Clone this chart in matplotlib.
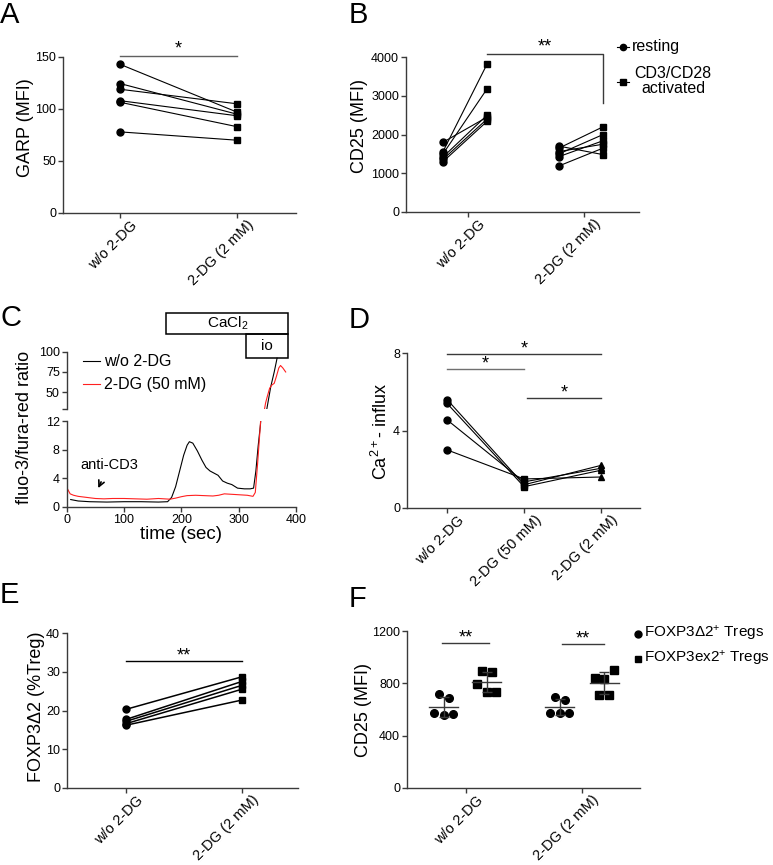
import numpy as np
import matplotlib
matplotlib.use('Agg')
import matplotlib.pyplot as plt
from matplotlib.lines import Line2D
from matplotlib.patches import Rectangle
from matplotlib.transforms import ScaledTranslation

plt.rcParams['font.family'] = ['Liberation Sans', 'DejaVu Sans']
plt.rcParams['mathtext.fontset'] = 'custom'
plt.rcParams['mathtext.rm'] = 'Liberation Sans'
plt.rcParams['mathtext.it'] = 'Liberation Sans:italic'

# ---- data ----
garp_wo = [143, 124.5, 119, 108, 106.5, 78]
garp_2dg = [97, 95, 105, 93.5, 83, 70]

cd25_wo_rest = [1800, 1560, 1500, 1420, 1360, 1300]
cd25_wo_act = [2450, 3820, 3180, 2500, 2400, 2340]
cd25_dg_rest = [1700, 1650, 1560, 1500, 1430, 1190]
cd25_dg_act = [1480, 2200, 1750, 2000, 1840, 1650]

t_black = [7, 20, 40, 70, 100, 130, 160, 176, 183, 190, 197, 204, 210, 214,
           220, 228, 236, 243, 250, 257, 264, 272, 280, 288, 298, 310, 320,
           326, 330, 334, 338, 342, 349, 356, 362, 367]
v_black = [1.0, 0.8, 0.7, 0.65, 0.7, 0.7, 0.65, 0.7, 1.3, 2.8, 5.0, 7.2, 8.6,
           9.1, 8.9, 7.8, 6.5, 5.5, 5.0, 4.7, 4.4, 3.6, 3.3, 3.1, 2.6, 2.5,
           2.5, 2.6, 5.0, 8.5, 11.5, 16, 29, 57, 75, 92]
t_red = [2, 6, 12, 20, 35, 50, 65, 80, 100, 120, 140, 160, 180, 190, 200, 210,
         225, 240, 255, 265, 275, 285, 295, 305, 315, 325, 329, 333, 337, 340,
         344, 347, 350, 354, 358, 362, 366, 370, 373, 377, 382]
v_red = [2.4, 1.8, 1.6, 1.45, 1.3, 1.15, 1.1, 1.15, 1.15, 1.1, 1.05, 1.15,
         1.05, 1.2, 1.4, 1.55, 1.6, 1.55, 1.5, 1.6, 1.8, 1.75, 1.7, 1.65, 1.6,
         1.45, 2.0, 6.0, 10.5, 14, 25, 37, 45, 55, 59, 61, 70, 80, 83, 80, 75]

ca_wo = [5.6, 5.4, 4.55, 3.0]
ca_50 = [1.2, 1.1, 1.35, 1.5]
ca_2 = [2.2, 1.95, 2.05, 1.6]

foxp3_wo = [20.3, 17.7, 17.2, 16.6, 16.2]
foxp3_dg = [28.7, 27.5, 26.5, 25.5, 22.7]

f_wo_d2 = [715, 689, 572, 559, 567]
f_wo_ex2 = [897, 887, 798, 735, 735]
f_dg_d2 = [692, 674, 577, 577, 577]
f_dg_ex2 = [900, 844, 831, 709, 714]

labels2 = ['w/o 2-DG', '2-DG (2 mM)']
labels3 = ['w/o 2-DG', '2-DG (50 mM)', '2-DG (2 mM)']

# ---- layout helpers ----
W, H = 773, 865
AX_C = '#3a3a3a'
fig = plt.figure(figsize=(W/100, H/100), dpi=100)


def box(l, t, r, b):
    return fig.add_axes([l/W, 1-b/H, (r-l)/W, (b-t)/H])


def style(ax, xt=None):
    for s in ['top', 'right']:
        ax.spines[s].set_visible(False)
    for s in ['left', 'bottom']:
        ax.spines[s].set_color(AX_C)
        ax.spines[s].set_linewidth(1.0)
    ax.tick_params(direction='out', length=3.5, width=1, color=AX_C,
                   labelsize=9, pad=1.5)
    if xt is not None:
        ax.set_xticks(range(len(xt)))
        ax.set_xticklabels(xt, rotation=45, ha='right', va='top',
                           rotation_mode='anchor', fontsize=10.5)
        off = ScaledTranslation(10/100, 2/100, fig.dpi_scale_trans)
        for lab in ax.get_xticklabels():
            lab.set_transform(lab.get_transform() + off)


def sig(ax, x0, x1, y, txt, color=AX_C, dy=0):
    ax.plot([x0, x1], [y, y], color=color, lw=1, clip_on=False)
    ax.text((x0+x1)/2, y+dy, txt, ha='center', va='bottom', fontsize=13)


def ylab(x, y, txt, fs=13):
    fig.text(x/W, 1-y/H, txt, rotation=90, ha='center', va='center',
             fontsize=fs)


def letter(x, y, txt):
    fig.text(x/W, 1-y/H, txt, ha='left', va='top', fontsize=21)


mk = dict(color='black', clip_on=False, zorder=3, linestyle='none')
ln = dict(color='black', lw=0.8, zorder=2)

# ---- A ----
ax = box(63, 57, 296, 213)
style(ax, labels2)
for a, b in zip(garp_wo, garp_2dg):
    ax.plot([0, 1], [a, b], **ln)
ax.plot([0]*len(garp_wo), garp_wo, marker='o', ms=5, **mk)
ax.plot([1]*len(garp_2dg), garp_2dg, marker='s', ms=5, **mk)
ax.set_xlim(-0.487, 1.504)
ax.set_ylim(0, 150)
ax.set_yticks([0, 50, 100, 150])
sig(ax, 0, 1, 151, '*', color='#606060', dy=-1.5)
ylab(26, 128, 'GARP (MFI)')
letter(0, 1, 'A')

# ---- B ----
ax = box(406, 57, 639, 212)
style(ax, labels2)
o_r, o_a = -0.215, 0.165
for a, b in zip(cd25_wo_rest, cd25_wo_act):
    ax.plot([o_r, o_a], [a, b], **ln)
for a, b in zip(cd25_dg_rest, cd25_dg_act):
    ax.plot([1+o_r, 1+o_a], [a, b], **ln)
ax.plot([o_r]*6, cd25_wo_rest, marker='o', ms=5, **mk)
ax.plot([o_a]*6, cd25_wo_act, marker='s', ms=5, **mk)
ax.plot([1+o_r]*6, cd25_dg_rest, marker='o', ms=5, **mk)
ax.plot([1+o_a]*6, cd25_dg_act, marker='s', ms=5, **mk)
ax.set_xlim(-0.534, 1.474)
ax.set_ylim(0, 4000)
ax.set_yticks([0, 1000, 2000, 3000, 4000])
ax.plot([o_a, 1+o_a, 1+o_a], [4080, 4080, 2810], color=AX_C, lw=1,
        clip_on=False)
ax.text(0.66, 4030, '**', ha='center', va='bottom', fontsize=13)
ylab(359, 126, 'CD25 (MFI)')
letter(349, 1, 'B')
for yy, mark in [(47, 'o'), (82, 's')]:
    fig.add_artist(Line2D([617/W, 623/W, 629/W], [1-yy/H]*3, color='black',
                          lw=0.8, marker=mark, ms=4.5, markevery=[1]))
fig.text(632/W, 1-47/H, 'resting', ha='left', va='center', fontsize=11.5)
fig.text(673/W, 1-81/H, 'CD3/CD28\nactivated', ha='center', va='center',
         fontsize=11.5, multialignment='center', linespacing=0.95)

# ---- C ----
axl = box(66.7, 421, 296, 506.7)
style(axl)
axl.plot(t_black, v_black, color='black', lw=0.8)
axl.plot(t_red, v_red, color='#ff2020', lw=0.8)
axl.set_xlim(0, 400)
axl.set_ylim(0, 12)
axl.set_yticks([0, 4, 8, 12])
axl.set_xticks([0, 100, 200, 300, 400])
axl.set_xlabel('time (sec)', fontsize=13.5, labelpad=0)
axl.annotate('anti-CD3', xy=(55, 2.6), xytext=(74, 5.9), ha='center',
             va='center', fontsize=10.5,
             arrowprops=dict(arrowstyle='->', color='black', lw=1.2,
                             shrinkA=6, shrinkB=0))

axu = box(66.7, 351.7, 296, 408.5)
style(axu)
axu.spines['bottom'].set_visible(False)
axu.plot(t_black, v_black, color='black', lw=0.8)
axu.plot(t_red, v_red, color='#ff2020', lw=0.8)
axu.set_xlim(0, 400)
axu.set_ylim(30, 100)
axu.set_xticks([])
axu.set_yticks([30, 50, 75, 100])
axu.set_yticklabels(['', '50', '75', '100'])
axu.patch.set_visible(False)
for x0, x1, y0, y1, txt in [(173.7, 386.7, 100 + 17.7/0.82, 100 + 39/0.82, 'CaCl$_2$'),
                            (312.4, 386.7, 100 - 6/0.82, 100 + 17.7/0.82, 'io')]:
    axu.add_patch(Rectangle((x0, y0), x1-x0, y1-y0, fill=False, lw=1.1,
                            edgecolor='black', clip_on=False))
    axu.text((x0+x1)/2, (y0+y1)/2, txt, ha='center', va='center',
             fontsize=11)
for yy, c, txt in [(361, 'black', 'w/o 2-DG'), (384, '#ff2020', '2-DG (50 mM)')]:
    fig.add_artist(Line2D([83/W, 100/W], [1-yy/H]*2, color=c, lw=0.8))
    fig.text(104/W, 1-yy/H, txt, ha='left', va='center', fontsize=11.5)
ylab(25, 427, 'fluo-3/fura-red ratio')
letter(1, 304, 'C')

# ---- D ----
ax = box(407, 353, 640, 508)
style(ax, labels3)
for a, b, c in zip(ca_wo, ca_50, ca_2):
    ax.plot([0, 1, 2], [a, b, c], **ln)
ax.plot([0]*4, ca_wo, marker='o', ms=5, **mk)
ax.plot([1]*4, ca_50, marker='s', ms=5, **mk)
ax.plot([2]*4, ca_2, marker='^', ms=5, **mk)
ax.set_xlim(-0.52, 2.506)
ax.set_ylim(0, 8)
ax.set_yticks([0, 4, 8])
sig(ax, 0, 2, 7.95, '*', dy=-0.2)
sig(ax, 0, 1, 7.17, '*', color='#707070', dy=-0.2)
sig(ax, 1.04, 2, 5.68, '*', dy=-0.2)
ylab(381, 431, 'Ca$^{2+}$- influx')
letter(349, 306, 'D')

# ---- E ----
ax = box(67, 633, 298, 788)
style(ax, labels2)
for a, b in zip(foxp3_wo, foxp3_dg):
    ax.plot([0, 1], [a, b], color='black', lw=1.1, zorder=2)
ax.plot([0]*5, foxp3_wo, marker='o', ms=5, **mk)
ax.plot([1]*5, foxp3_dg, marker='s', ms=5, **mk)
ax.set_xlim(-0.509, 1.483)
ax.set_ylim(0, 40)
ax.set_yticks([0, 10, 20, 30, 40])
sig(ax, 0, 1, 32.7, '**', color='black', dy=-0.8)
ylab(37, 707, 'FOXP3\u03942 (%Treg)')
letter(0, 581, 'E')

# ---- F ----
ax = box(407, 631, 640, 788)
style(ax, labels2)
jit_a = [-0.04, 0.04, -0.083, 0, 0.08]
jit_b = [0.083, -0.078, 0, -0.04, 0.043]
groups = [(-0.19, f_wo_d2, 'o', jit_a), (0.18, f_wo_ex2, 's', jit_a),
          (0.81, f_dg_d2, 'o', jit_a), (1.19, f_dg_ex2, 's', jit_b)]
for xc, vals, mark, jit in groups:
    m, sd = np.mean(vals), np.std(vals, ddof=1)
    ax.plot(np.array(jit) + xc, vals, marker=mark, ms=5.5, **mk)
    ax.plot([xc-0.125, xc+0.125], [m, m], color=AX_C, lw=1, zorder=4)
    ax.errorbar([xc], [m], yerr=[sd], color=AX_C, lw=1, capsize=3.5,
                capthick=1, zorder=4)
ax.set_xlim(-0.509, 1.5)
ax.set_ylim(0, 1200)
ax.set_yticks([0, 400, 800, 1200])
sig(ax, -0.21, 0.2, 1108, '**', dy=-25)
sig(ax, 0.83, 1.19, 1100, '**', dy=-25)
ylab(364, 710, 'CD25 (MFI)')
letter(349, 585, 'F')
for yy, mark, txt in [(634, 'o', 'FOXP3\u03942$^{+}$ Tregs'),
                      (659, 's', 'FOXP3ex2$^{+}$ Tregs')]:
    fig.add_artist(Line2D([638/W], [1-yy/H], color='black', marker=mark,
                          ms=5, linestyle='none'))
    fig.text(644/W, 1-yy/H, txt, ha='left', va='center', fontsize=11)

fig.savefig('out.png', dpi=100)
